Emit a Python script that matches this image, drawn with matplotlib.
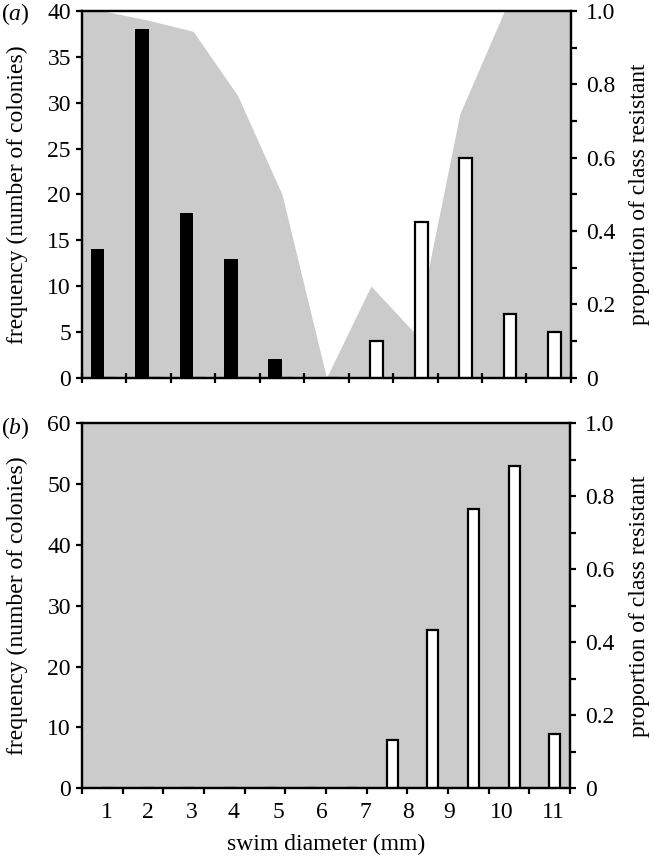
import numpy as np
import matplotlib
matplotlib.use("Agg")
import matplotlib.pyplot as plt
from matplotlib.ticker import MultipleLocator, FixedLocator, FuncFormatter

plt.rcParams['font.family'] = ['Liberation Serif', 'DejaVu Serif']
plt.rcParams['font.size'] = 17
plt.rcParams['mathtext.fontset'] = 'custom'
plt.rcParams['mathtext.rm'] = 'Liberation Serif'
plt.rcParams['mathtext.it'] = 'Liberation Serif:italic'

# panel (a): 11 size classes
classes_a = np.arange(1, 12)
susceptible_a = [14, 38, 18, 13, 2, 0, 0, 0, 0, 0, 0]
resistant_a = [0, 0, 0, 0, 0, 0, 4, 17, 24, 7, 5]
prop_a = [1.0, 0.975, 0.945, 0.77, 0.50, 0.0, 0.25, 0.12, 0.72, 1.0, 1.0]

# panel (b): 12 size classes
classes_b = np.arange(1, 13)
resistant_b = [0, 0, 0, 0, 0, 0, 0, 8, 26, 46, 53, 9]
prop_b = [1.0] * 12

xtick_labels = [str(i) for i in range(1, 12)]
# where the labels sit under panel (b), as fraction of axis width
xtick_frac = [0.051, 0.135, 0.225, 0.311, 0.402, 0.491, 0.580, 0.668, 0.752, 0.861, 0.965]

GREY = '#cbcbcb'
LW = 1.6


def fmt_prop(v, pos):
    return '0' if abs(v) < 1e-9 else f'{v:.1f}'


def panel(ax, classes, prop, ymax, ystep):
    ax2 = ax.twinx()
    x = np.r_[classes[0] - 0.5, classes, classes[-1] + 0.5]
    p = np.r_[prop[0], prop, prop[-1]]
    ax2.fill_between(x, 0, p, color=GREY, linewidth=0)
    ax2.set_ylim(0, 1)
    ax2.yaxis.set_major_locator(MultipleLocator(0.2))
    ax2.yaxis.set_minor_locator(MultipleLocator(0.1))
    ax2.yaxis.set_major_formatter(FuncFormatter(fmt_prop))
    ax2.tick_params(axis='y', which='both', direction='out', length=4, width=LW, pad=7)
    ax2.set_ylabel('proportion of class resistant', labelpad=10)
    ax.set_zorder(ax2.get_zorder() + 1)
    ax.patch.set_visible(False)
    ax.set_xlim(classes[0] - 0.5, classes[-1] + 0.5)
    ax.set_ylim(0, ymax)
    ax.yaxis.set_major_locator(MultipleLocator(ystep))
    ax.tick_params(axis='y', direction='out', length=4, width=LW, pad=4)
    ax.set_ylabel('frequency (number of colonies)', labelpad=14)
    for a in (ax, ax2):
        for s in a.spines.values():
            s.set_linewidth(LW)
    return ax2


fig = plt.figure(figsize=(6.54, 8.58), dpi=100)
axa = fig.add_axes([0.1254, 0.5598, 0.7476, 0.4272])
axb = fig.add_axes([0.1254, 0.0812, 0.7461, 0.4254])

panel(axa, classes_a, prop_a, 40, 5)
axa.bar(classes_a - 0.15, susceptible_a, width=0.31, color='black', edgecolor='black', linewidth=0)
axa.bar(classes_a + 0.13, resistant_a, width=0.29, color='white', edgecolor='black', linewidth=LW)
axa.xaxis.set_major_locator(FixedLocator(np.r_[classes_a[0] - 0.5, classes_a + 0.5]))
axa.tick_params(axis='x', direction='inout', length=7, width=LW, labelbottom=False)

panel(axb, classes_b, prop_b, 60, 10)
axb.bar(classes_b + 0.13, resistant_b, width=0.27, color='white', edgecolor='black', linewidth=LW)
axb.xaxis.set_major_locator(FixedLocator(np.r_[classes_b[0] - 0.5, classes_b + 0.5]))
axb.tick_params(axis='x', which='major', direction='out', length=4, width=LW, labelbottom=False)
lo, hi = axb.get_xlim()
axb.xaxis.set_minor_locator(FixedLocator([lo + f * (hi - lo) for f in xtick_frac]))
axb.set_xticklabels(xtick_labels, minor=True)
axb.tick_params(axis='x', which='minor', length=0, pad=10)
axb.set_xlabel('swim diameter (mm)', labelpad=8)

fig.text(0.002, 0.999, r'($\it{a}$)', va='top', ha='left', fontsize=17)
fig.text(0.002, 0.516, r'($\it{b}$)', va='top', ha='left', fontsize=17)

fig.savefig('out.png', dpi=100)
